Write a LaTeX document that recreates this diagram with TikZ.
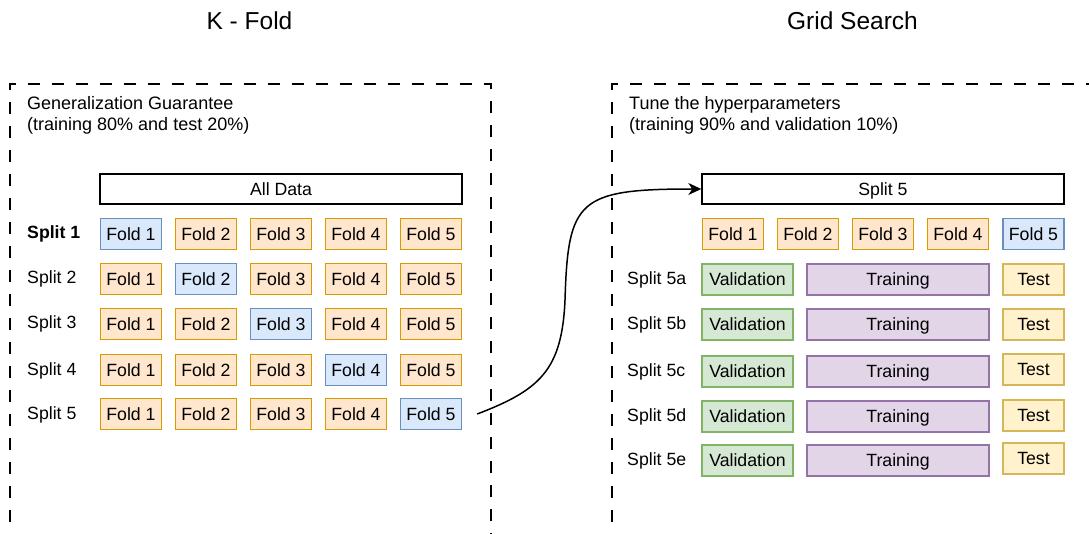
\documentclass[tikz,border=0pt]{standalone}
\usepackage{fontspec}
\setmainfont{Liberation Sans}
\usetikzlibrary{arrows.meta}

\definecolor{foldfill}{HTML}{FFE6CC}
\definecolor{folddraw}{HTML}{D79B00}
\definecolor{testfill}{HTML}{DAE8FC}
\definecolor{testdraw}{HTML}{6C8EBF}
\definecolor{valfill}{HTML}{D5E8D4}
\definecolor{valdraw}{HTML}{82B366}
\definecolor{trainfill}{HTML}{E1D5E7}
\definecolor{traindraw}{HTML}{9673A6}
\definecolor{holdfill}{HTML}{FFF2CC}
\definecolor{holddraw}{HTML}{D6B656}

\tikzset{
  box/.style={draw, line width=1.4pt, inner sep=0pt, minimum height=31pt,
    text height=12.6pt, text depth=0pt, font=\fontsize{17.7}{21}\selectfont},
  fold/.style={box, fill=foldfill, draw=folddraw, minimum width=61pt},
  held/.style={box, fill=testfill, draw=testdraw, minimum width=61pt},
  valid/.style={box, fill=valfill, draw=valdraw, minimum width=91pt},
  train/.style={box, fill=trainfill, draw=traindraw, minimum width=182pt},
  final/.style={box, fill=holdfill, draw=holddraw, minimum width=61pt},
  whole/.style={box, draw=black, minimum width=362pt, minimum height=30pt},
  lbl/.style={anchor=west, inner sep=0pt, font=\fontsize{17.7}{21}\selectfont},
  frame/.style={line width=1.4pt, dash pattern=on 12pt off 12pt, dash phase=10pt},
}

\begin{document}
\begin{tikzpicture}[x=1pt,y=-1pt]
\useasboundingbox (0,0) rectangle (1089,534);
\clip (0,0) rectangle (1089,534);

% titles
\node[font=\fontsize{24.5}{29}\selectfont] (kfold) at (249.5,21) {K - Fold};
\node[font=\fontsize{24.5}{29}\selectfont] (grid) at (852.5,21) {Grid Search};

% dashed frames
\draw[frame] (10,560) -- (10,84) -- (491,84) -- (491,560);
\draw[frame] (612,560) -- (612,84) -- (1120,84);

\node[anchor=base west, inner sep=0pt, align=left, font=\fontsize{18}{21}\selectfont] (kfoldnote) at (27,131)
  {Generalization Guarantee\\(training 80\% and test 20\%)};
\node[anchor=base west, inner sep=0pt, align=left, font=\fontsize{18}{21}\selectfont] (gridnote) at (629,131)
  {Tune the hyperparameters\\(training 90\% and validation 10\%)};

% K-Fold
\node[whole] (all) at (281,189) {All Data};

\node[lbl, font=\fontsize{17.7}{21}\selectfont\bfseries] (s1) at (27,234) {Split 1};
\node[held] (l11) at (131,234) {Fold 1};
\node[fold] (l12) at (206,234) {Fold 2};
\node[fold] (l13) at (281,234) {Fold 3};
\node[fold] (l14) at (356,234) {Fold 4};
\node[fold] (l15) at (431,234) {Fold 5};

\node[lbl] (s2) at (27,279) {Split 2};
\node[fold] (l21) at (131,279) {Fold 1};
\node[held] (l22) at (206,279) {Fold 2};
\node[fold] (l23) at (281,279) {Fold 3};
\node[fold] (l24) at (356,279) {Fold 4};
\node[fold] (l25) at (431,279) {Fold 5};

\node[lbl] (s3) at (27,324) {Split 3};
\node[fold] (l31) at (131,324) {Fold 1};
\node[fold] (l32) at (206,324) {Fold 2};
\node[held] (l33) at (281,324) {Fold 3};
\node[fold] (l34) at (356,324) {Fold 4};
\node[fold] (l35) at (431,324) {Fold 5};

\node[lbl] (s4) at (27,371) {Split 4};
\node[fold] (l41) at (131,370) {Fold 1};
\node[fold] (l42) at (206,370) {Fold 2};
\node[fold] (l43) at (281,370) {Fold 3};
\node[held] (l44) at (356,370) {Fold 4};
\node[fold] (l45) at (431,370) {Fold 5};

\node[lbl] (s5) at (27,415) {Split 5};
\node[fold] (l51) at (131,414) {Fold 1};
\node[fold] (l52) at (206,414) {Fold 2};
\node[fold] (l53) at (281,414) {Fold 3};
\node[fold] (l54) at (356,414) {Fold 4};
\node[held] (l55) at (431,414) {Fold 5};

% Grid Search
\node[whole] (split5) at (883,189) {Split 5};

\node[fold] (r1) at (733,234) {Fold 1};
\node[fold] (r2) at (808,234) {Fold 2};
\node[fold] (r3) at (883,234) {Fold 3};
\node[fold] (r4) at (958,234) {Fold 4};
\node[held] (r5) at (1033.5,234) {Fold 5};

\node[lbl] (sa) at (627,279.5) {Split 5a};
\node[valid] (va) at (747.5,279.5) {Validation};
\node[train] (ta) at (898,279.5) {Training};
\node[final] (ea) at (1033.5,279.5) {Test};

\node[lbl] (sb) at (627,324.5) {Split 5b};
\node[valid] (vb) at (747.5,324.5) {Validation};
\node[train] (tb) at (898,324.5) {Training};
\node[final] (eb) at (1033.5,324.5) {Test};

\node[lbl] (sc) at (627,371.5) {Split 5c};
\node[valid] (vc) at (747.5,371.5) {Validation};
\node[train] (tc) at (898,371.5) {Training};
\node[final] (ec) at (1033.5,369.5) {Test};

\node[lbl] (sd) at (627,416.5) {Split 5d};
\node[valid] (vd) at (747.5,416.5) {Validation};
\node[train] (td) at (898,416.5) {Training};
\node[final] (ed) at (1033.5,415.5) {Test};

\node[lbl] (se) at (627,460.5) {Split 5e};
\node[valid] (ve) at (747.5,460.5) {Validation};
\node[train] (te) at (898,460.5) {Training};
\node[final] (ee) at (1033.5,458.5) {Test};

% arrow
\coordinate (start) at ([xshift=15pt]l55.east);
\draw[line width=1.5pt, -{Stealth[length=13pt, width=12pt, inset=4pt]}]
  (start) .. controls (540,390) and (562,370) .. (565,300)
  .. controls (568,200) and (578,189) .. (split5.west);
\end{tikzpicture}
\end{document}
